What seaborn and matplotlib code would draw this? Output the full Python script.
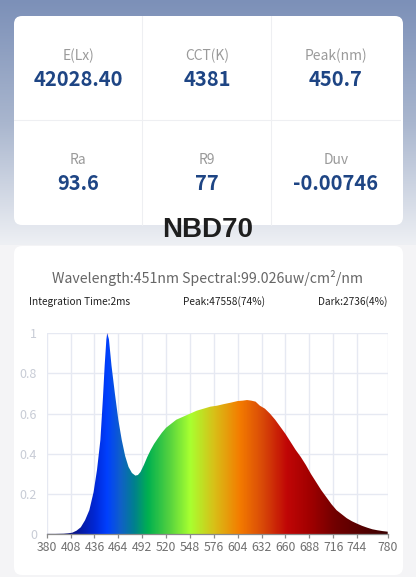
import matplotlib
matplotlib.use("Agg")
import matplotlib.pyplot as plt
import numpy as np
import seaborn as sns
from matplotlib.colors import LinearSegmentedColormap
from matplotlib.patches import FancyBboxPatch

# --- data -------------------------------------------------------------------
metric_labels = ["E(Lx)", "CCT(K)", "Peak(nm)", "Ra", "R9", "Duv"]
metric_values = ["42028.40", "4381", "450.7", "93.6", "77", "-0.00746"]
device_name = "NBD70"
header_text = "Wavelength:451nm Spectral:99.026uw/cm\u00b2/nm"
info_left = "Integration Time:2ms"
info_mid = "Peak:47558(74%)"
info_right = "Dark:2736(4%)"
peak_wl = 451

wavelength = [380, 390, 400, 405, 410, 415, 420, 425, 430, 435, 439, 443, 446,
              448, 450, 451, 453, 456, 460, 464, 468, 472, 476, 480, 484, 487,
              490, 494, 498, 502, 506, 510, 515, 520, 526, 532, 540, 548, 556,
              564, 572, 580, 588, 596, 604, 610, 615, 620, 625, 630, 636, 642,
              648, 654, 660, 666, 672, 678, 684, 690, 696, 702, 708, 714, 720,
              726, 732, 738, 744, 750, 756, 762, 768, 774, 780]
intensity = [0.002, 0.002, 0.003, 0.005, 0.008, 0.018, 0.035, 0.07, 0.12, 0.21,
             0.32, 0.47, 0.68, 0.84, 0.97, 1.0, 0.97, 0.84, 0.70, 0.57, 0.47,
             0.39, 0.335, 0.305, 0.292, 0.295, 0.31, 0.345, 0.385, 0.42, 0.45,
             0.475, 0.505, 0.53, 0.55, 0.57, 0.585, 0.60, 0.615, 0.625, 0.635,
             0.64, 0.648, 0.655, 0.663, 0.665, 0.668, 0.665, 0.66, 0.64, 0.625,
             0.60, 0.57, 0.535, 0.50, 0.46, 0.42, 0.385, 0.345, 0.30, 0.26,
             0.22, 0.185, 0.15, 0.12, 0.10, 0.08, 0.065, 0.053, 0.042, 0.033,
             0.025, 0.02, 0.016, 0.013]
x_ticks = [380, 408, 436, 464, 492, 520, 548, 576, 604, 632, 660, 688, 716, 744, 780]
y_ticks = [0, 0.2, 0.4, 0.6, 0.8, 1]
y_ticklabels = ["0", "0.2", "0.4", "0.6", "0.8", "1"]

# spectrum colour stops (wavelength -> colour)
stop_wl = [380, 410, 436, 450, 466, 482, 498, 522, 548, 576, 606, 634, 662, 690, 718, 780]
stop_col = ["#0a0a55", "#0a1488", "#0028d8", "#0040ff", "#1060c8", "#00808e",
            "#00b050", "#50d040", "#a8ff30", "#d8c018", "#f47c00", "#d84808",
            "#c00606", "#a00000", "#720000", "#3a0000"]

# --- style ------------------------------------------------------------------
sns.set_theme(style="whitegrid")
plt.rcParams["font.family"] = ["Noto Sans CJK SC", "DejaVu Sans"]

W, H = 416, 577
fig = plt.figure(figsize=(W / 100, H / 100), dpi=100)

# background layer in pixel coordinates
bg = fig.add_axes([0, 0, 1, 1])
bg.set_xlim(0, W)
bg.set_ylim(H, 0)
bg.axis("off")
bg.add_patch(plt.Rectangle((0, 0), W, H, color="#f4f4f6", zorder=0))
grad = LinearSegmentedColormap.from_list("bg", ["#7c90b8", "#a9b6ce", "#eef0f4"])
bg.imshow(np.linspace(0, 1, 256).reshape(-1, 1), cmap=grad, aspect="auto",
          extent=[0, W, 245, 0], zorder=1)
bg.set_xlim(0, W)
bg.set_ylim(H, 0)

for (y0, y1) in [(16, 225), (246, 575)]:
    bg.add_patch(FancyBboxPatch((14, y0), 389, y1 - y0,
                                boxstyle="round,pad=0,rounding_size=8",
                                fc="white", ec="none", zorder=2))

# metric grid lines
for xv in [142, 271]:
    bg.plot([xv, xv], [16, 225], color="#eeeff2", lw=0.8, zorder=3)
bg.plot([14, 400], [120, 120], color="#eeeff2", lw=0.8, zorder=3)

col_x = [78, 207, 336]
for i, (lab, val) in enumerate(zip(metric_labels, metric_values)):
    cx = col_x[i % 3]
    ly = 56 if i < 3 else 160
    bg.text(cx, ly, lab, ha="center", va="center", fontsize=10, color="#9a9a9a", zorder=4)
    bg.text(cx, ly + 23, val, ha="center", va="center", fontsize=14.5,
            fontweight="bold", color="#1e4584", zorder=4)

bg.text(208, 230, device_name, ha="center", va="center", fontsize=20,
        fontweight="bold", color="#1e1e1e", zorder=5,
        family=["Liberation Sans", "DejaVu Sans"])

bg.text(208, 278, header_text, ha="center", va="center", fontsize=10.2, color="#666666", zorder=4)
bg.text(29, 302, info_left, ha="left", va="center", fontsize=7.3, color="#222222", zorder=4)
bg.text(224, 302, info_mid, ha="center", va="center", fontsize=7.3, color="#222222", zorder=4)
bg.text(387, 302, info_right, ha="right", va="center", fontsize=7.3, color="#222222", zorder=4)

# --- spectrum chart ---------------------------------------------------------
ax = fig.add_axes([46.7 / W, 1 - 534.3 / H, 341 / W, 201 / H])
ax.set_facecolor("none")
ax.set_xlim(380, 780)
ax.set_ylim(0, 1)

wl = np.array(wavelength)
it = np.array(intensity)
poly = ax.fill_between(wl, 0, it, color="none", lw=0)
spec = LinearSegmentedColormap.from_list(
    "spec", list(zip([(w - 380) / 400 for w in stop_wl], stop_col)))
img = ax.imshow(np.linspace(0, 1, 800).reshape(1, -1), cmap=spec, aspect="auto",
                extent=[380, 780, 0, 1], zorder=2)
img.set_clip_path(poly.get_paths()[0], transform=ax.transData)

sns.lineplot(x=[peak_wl, peak_wl], y=[0, 1], color="#e8202a", lw=0.9, ax=ax, zorder=3)

ax.set_xticks(x_ticks)
ax.set_yticks(y_ticks)
ax.set_yticklabels(y_ticklabels)
ax.grid(True, color="#e6e9f2", lw=1)
ax.set_axisbelow(True)
for s in ["top", "right", "left"]:
    ax.spines[s].set_visible(False)
ax.spines["bottom"].set_color("#8a8a8a")
ax.spines["bottom"].set_linewidth(0.9)
ax.tick_params(axis="x", colors="#8a8a8a", labelcolor="#707070", labelsize=8.8,
               length=3, width=0.9, direction="out", pad=2, bottom=True)
ax.tick_params(axis="y", labelcolor="#c8ccd6", labelsize=9, length=0, pad=7)
ax.set_xlabel("")
ax.set_ylabel("")

fig.savefig("out.png", dpi=100)
